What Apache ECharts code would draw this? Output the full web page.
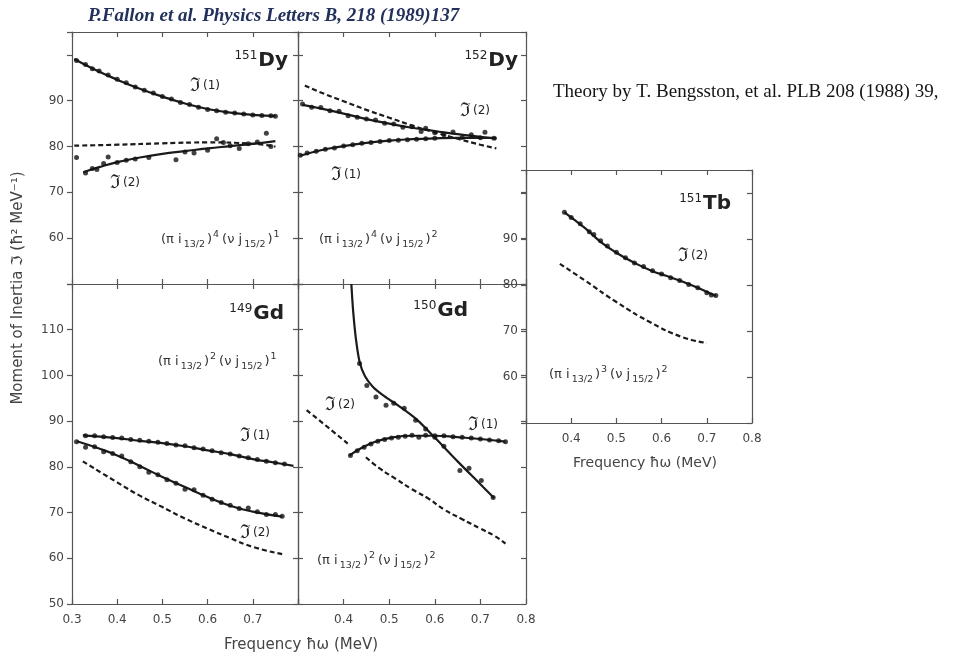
<!DOCTYPE html>
<html>
<head>
<meta charset="utf-8">
<script src="https://cdn.jsdelivr.net/npm/echarts@6/dist/echarts.min.js"></script>
<style>
  html, body { margin: 0; padding: 0; background: #fff; }
  #chart { width: 974px; height: 652px; }
</style>
</head>
<body>
<div id="chart"></div>
<script>
// ---------- tick labels ----------
const freqTickLabelsLeft  = ['0.3', '0.4', '0.5', '0.6', '0.7'];
const freqTickLabelsRight = ['0.4', '0.5', '0.6', '0.7', '0.8'];
const inertiaTickLabelsDy = ['60', '70', '80', '90'];
const inertiaTickLabelsGd = ['50', '60', '70', '80', '90', '100', '110'];
const inertiaTickLabelsTb = ['60', '70', '80', '90'];

// ---------- 151Dy ----------
const dy151J1Fit = [[0.305,99.1],[0.35,96.8],[0.40,94.6],[0.45,92.6],[0.50,90.9],[0.55,89.4],[0.60,88.2],[0.65,87.4],[0.70,86.9],[0.75,86.7]];
const dy151J1Pts = [[0.31,98.8],[0.33,97.9],[0.345,97.0],[0.36,96.5],[0.38,95.6],[0.40,94.7],[0.42,93.9],[0.44,93.0],[0.46,92.3],[0.48,91.7],[0.50,90.9],[0.52,90.4],[0.54,89.6],[0.56,89.2],[0.58,88.6],[0.60,88.1],[0.62,87.8],[0.64,87.5],[0.66,87.3],[0.68,87.1],[0.70,86.9],[0.72,86.8],[0.74,86.7],[0.75,86.6]];
const dy151J2Fit = [[0.325,74.4],[0.36,75.5],[0.40,76.6],[0.45,77.6],[0.50,78.4],[0.55,79.0],[0.60,79.6],[0.65,80.1],[0.70,80.6],[0.75,81.2]];
const dy151J2Pts = [[0.31,77.6],[0.33,74.2],[0.345,75.2],[0.355,75.0],[0.37,76.3],[0.38,77.7],[0.40,76.5],[0.42,77.0],[0.44,77.3],[0.47,77.6],[0.53,77.1],[0.55,78.8],[0.57,78.6],[0.60,79.2],[0.62,81.7],[0.635,80.9],[0.65,80.2],[0.67,79.6],[0.69,80.6],[0.71,81.0],[0.73,82.9],[0.74,80.0]];
const dy151Theory = [[0.305,80.2],[0.40,80.4],[0.50,80.7],[0.60,80.9],[0.70,80.6],[0.75,80.0]];

// ---------- 152Dy ----------
const dy152J2Fit = [[0.31,89.1],[0.35,88.3],[0.40,87.2],[0.45,86.0],[0.50,85.0],[0.55,84.1],[0.60,83.4],[0.65,82.7],[0.70,82.1],[0.735,81.7]];
const dy152J2Pts = [[0.31,89.3],[0.33,88.6],[0.35,88.5],[0.37,87.8],[0.39,87.7],[0.41,86.7],[0.43,86.4],[0.45,86.0],[0.47,85.8],[0.49,85.1],[0.51,84.9],[0.53,84.2],[0.55,84.3],[0.57,83.3],[0.58,84.0],[0.60,83.0],[0.62,82.6],[0.64,83.2],[0.66,82.0],[0.68,82.6],[0.70,81.9],[0.71,83.1],[0.73,81.8]];
const dy152J1Fit = [[0.305,78.0],[0.35,79.2],[0.40,80.1],[0.45,80.8],[0.50,81.3],[0.55,81.6],[0.60,81.8],[0.65,81.9],[0.70,81.9],[0.735,81.9]];
const dy152J1Pts = [[0.305,78.1],[0.32,78.6],[0.34,79.0],[0.36,79.4],[0.38,79.7],[0.40,80.1],[0.42,80.4],[0.44,80.7],[0.46,80.9],[0.48,81.1],[0.50,81.3],[0.52,81.4],[0.54,81.5],[0.56,81.6],[0.58,81.7],[0.60,81.8]];
const dy152Theory = [[0.315,93.3],[0.35,91.8],[0.40,89.9],[0.45,88.0],[0.50,86.3],[0.55,84.6],[0.60,83.1],[0.65,81.7],[0.70,80.4],[0.735,79.6]];

// ---------- 149Gd ----------
const gd149J1Fit = [[0.324,86.9],[0.40,86.3],[0.45,85.7],[0.50,85.2],[0.55,84.5],[0.60,83.6],[0.65,82.8],[0.70,81.7],[0.75,80.9],[0.79,80.2]];
const gd149J1Pts = [[0.33,86.8],[0.35,86.8],[0.37,86.6],[0.39,86.4],[0.41,86.3],[0.43,86.0],[0.45,85.8],[0.47,85.6],[0.49,85.4],[0.51,85.1],[0.53,84.8],[0.55,84.6],[0.57,84.2],[0.59,83.9],[0.61,83.5],[0.63,83.1],[0.65,82.8],[0.67,82.4],[0.69,82.0],[0.71,81.6],[0.73,81.2],[0.75,80.9],[0.77,80.6]];
const gd149J2Fit = [[0.311,85.6],[0.36,84.0],[0.40,82.5],[0.45,80.2],[0.50,77.8],[0.55,75.6],[0.60,73.4],[0.65,71.5],[0.70,70.2],[0.765,69.1]];
const gd149J2Pts = [[0.31,85.5],[0.33,84.3],[0.35,84.4],[0.37,83.3],[0.39,82.9],[0.41,82.4],[0.43,81.1],[0.45,80.0],[0.47,78.8],[0.49,78.3],[0.51,77.2],[0.53,76.4],[0.55,75.1],[0.57,75.0],[0.59,73.8],[0.61,72.9],[0.63,72.2],[0.65,71.6],[0.67,70.9],[0.69,71.0],[0.71,70.2],[0.73,69.6],[0.75,69.6],[0.765,69.2]];
const gd149Theory = [[0.324,81.2],[0.40,76.6],[0.45,73.7],[0.50,71.2],[0.55,68.7],[0.60,66.5],[0.65,64.4],[0.70,62.5],[0.765,60.9]];

// ---------- 150Gd ----------
const gd150J2Fit = [[0.417,120],[0.421,114],[0.427,108],[0.435,103],[0.447,99.8],[0.465,97.4],[0.49,95.4],[0.52,93.4],[0.56,90.4],[0.60,86.4],[0.65,81.2],[0.70,76.2],[0.73,73.2]];
const gd150J2Pts = [[0.435,102.6],[0.451,97.8],[0.471,95.3],[0.493,93.5],[0.51,93.9],[0.533,92.8],[0.558,90.2],[0.58,88.3],[0.60,86.5],[0.62,84.5],[0.655,79.2],[0.675,79.7],[0.702,77.0],[0.728,73.3]];
const gd150J1Fit = [[0.413,82.5],[0.44,84.2],[0.47,85.5],[0.50,86.3],[0.55,86.8],[0.60,86.8],[0.65,86.5],[0.70,86.1],[0.755,85.5]];
const gd150J1Pts = [[0.415,82.5],[0.43,83.5],[0.445,84.3],[0.46,85.0],[0.475,85.6],[0.49,86.0],[0.505,86.3],[0.52,86.5],[0.535,86.7],[0.55,86.9],[0.565,86.5],[0.58,86.9],[0.60,86.8],[0.62,86.8],[0.64,86.6],[0.66,86.5],[0.68,86.3],[0.70,86.1],[0.72,85.9],[0.74,85.7],[0.755,85.5]];
const gd150TheoryLow  = [[0.319,92.4],[0.36,89.1],[0.409,85.1]];
const gd150TheoryHigh = [[0.449,82.1],[0.48,79.6],[0.514,77.4],[0.55,75.1],[0.587,73.0],[0.62,70.7],[0.659,68.6],[0.70,66.5],[0.731,64.9],[0.755,63.2]];

// ---------- 151Tb ----------
const tb151J2Fit = [[0.385,95.8],[0.43,92.4],[0.465,89.4],[0.50,87.0],[0.54,84.8],[0.58,83.0],[0.61,82.0],[0.65,80.6],[0.685,79.2],[0.72,77.6]];
const tb151J2Pts = [[0.385,95.8],[0.40,94.7],[0.42,93.3],[0.44,91.6],[0.45,91.0],[0.465,89.6],[0.48,88.5],[0.50,87.1],[0.52,85.9],[0.54,84.8],[0.56,84.0],[0.58,83.1],[0.60,82.4],[0.62,81.6],[0.64,81.0],[0.66,80.1],[0.68,79.4],[0.70,78.3],[0.71,77.8],[0.72,77.7]];
const tb151Theory = [[0.375,84.6],[0.43,81.0],[0.50,76.3],[0.575,71.9],[0.645,68.7],[0.70,67.4]];

// ---------- layout ----------
const INK = '#1b1b1b';
const FRAME = '#555';
const SANS = 'DejaVu Sans';

const panels = [
  { left: 72,  top: 32,  width: 226, height: 252, yMin: 50, yMax: 105, xLabels: null, yLabels: inertiaTickLabelsDy, tickOut: true },
  { left: 298, top: 32,  width: 228, height: 252, yMin: 50, yMax: 105, xLabels: null, yLabels: null, tickOut: false },
  { left: 72,  top: 284, width: 226, height: 320, yMin: 50, yMax: 120, xLabels: freqTickLabelsLeft, yLabels: inertiaTickLabelsGd, tickOut: true },
  { left: 298, top: 284, width: 228, height: 320, yMin: 50, yMax: 120, xLabels: freqTickLabelsRight, yLabels: null, tickOut: false },
  { left: 526, top: 170, width: 226, height: 253, yMin: 50, yMax: 105, xLabels: freqTickLabelsRight, yLabels: inertiaTickLabelsTb, tickOut: true }
];

const lineStyleFrame = { color: FRAME, width: 1.2 };
const grids = [], xAxes = [], yAxes = [];

panels.forEach((p, i) => {
  grids.push({ left: p.left, top: p.top, width: p.width, height: p.height, show: false });
  const xFmt = v => { const s = v.toFixed(1); return p.xLabels && p.xLabels.includes(s) ? s : ''; };
  const yFmt = v => { const r = Math.round(v); return p.yLabels && Math.abs(v - r) < 1e-6 && p.yLabels.includes(String(r)) ? String(r) : ''; };
  const base = {
    gridIndex: i, type: 'value',
    axisLine: { show: true, onZero: false, lineStyle: lineStyleFrame },
    splitLine: { show: false }
  };
  xAxes.push(Object.assign({}, base, {
    position: 'bottom', min: 0.3, max: 0.8, interval: 0.1,
    axisTick: { show: true, inside: true, length: 5, lineStyle: lineStyleFrame },
    axisLabel: { show: !!p.xLabels, formatter: xFmt, margin: 10, fontFamily: SANS, fontSize: 12, color: '#444' }
  }));
  xAxes.push(Object.assign({}, base, {
    position: 'top', min: 0.3, max: 0.8, interval: 0.1,
    axisTick: { show: true, inside: true, length: 5, lineStyle: lineStyleFrame },
    axisLabel: { show: false }
  }));
  yAxes.push(Object.assign({}, base, {
    position: 'left', min: p.yMin, max: p.yMax, interval: 10,
    axisTick: { show: true, inside: !p.tickOut, length: 5, lineStyle: lineStyleFrame },
    axisLabel: { show: !!p.yLabels, formatter: yFmt, margin: 8, fontFamily: SANS, fontSize: 12, color: '#444' }
  }));
  yAxes.push(Object.assign({}, base, {
    position: 'right', min: p.yMin, max: p.yMax, interval: 10,
    axisTick: { show: true, inside: true, length: 5, lineStyle: lineStyleFrame },
    axisLabel: { show: false }
  }));
});

function curve(data, g, dashed, smoothness) {
  return {
    type: 'line', xAxisIndex: 2 * g, yAxisIndex: 2 * g, data: data,
    smooth: smoothness == null ? 0.5 : smoothness,
    showSymbol: false, symbol: 'none', silent: true, z: 3,
    lineStyle: { color: INK, width: 2.2, type: dashed ? [5, 3] : 'solid' }
  };
}
function dots(data, g) {
  return {
    type: 'scatter', xAxisIndex: 2 * g, yAxisIndex: 2 * g, data: data,
    symbol: 'circle', symbolSize: 5, itemStyle: { color: '#111' }, silent: true, z: 4
  };
}

const series = [
  curve(dy151J1Fit, 0), dots(dy151J1Pts, 0), curve(dy151J2Fit, 0), dots(dy151J2Pts, 0), curve(dy151Theory, 0, true),
  curve(dy152J2Fit, 1), dots(dy152J2Pts, 1), curve(dy152J1Fit, 1), dots(dy152J1Pts, 1), curve(dy152Theory, 1, true),
  curve(gd149J1Fit, 2), dots(gd149J1Pts, 2), curve(gd149J2Fit, 2), dots(gd149J2Pts, 2), curve(gd149Theory, 2, true),
  curve(gd150J2Fit, 3, false, 0.3), dots(gd150J2Pts, 3), curve(gd150J1Fit, 3), dots(gd150J1Pts, 3),
  curve(gd150TheoryLow, 3, true), curve(gd150TheoryHigh, 3, true),
  curve(tb151J2Fit, 4), dots(tb151J2Pts, 4), curve(tb151Theory, 4, true)
];

// ---------- annotations ----------
function nucleus(x, y, mass, sym) {
  return {
    type: 'text', x: x, y: y, z: 10,
    style: {
      text: '{m|' + mass + '}{e|' + sym + '}',
      align: 'right', verticalAlign: 'middle',
      rich: {
        m: { fontFamily: SANS, fontSize: 12, fill: '#222', verticalAlign: 'top', lineHeight: 22, padding: [0, 1, 0, 0] },
        e: { fontFamily: SANS, fontSize: 20, fontWeight: 'bold', fill: '#222', lineHeight: 22 }
      }
    }
  };
}
function inertiaTag(x, y, order) {
  return {
    type: 'text', x: x, y: y, z: 10,
    style: {
      text: '{j|ℑ}{n|(' + order + ')}',
      align: 'left', verticalAlign: 'middle',
      rich: {
        j: { fontFamily: 'DejaVu Serif', fontSize: 19, fill: '#222', lineHeight: 22, padding: [0, 2, 0, 0] },
        n: { fontFamily: SANS, fontSize: 12, fill: '#222', lineHeight: 22 }
      }
    }
  };
}
// nucleon configuration, e.g. (π i13/2)^4 (ν j15/2)^1
function config(x, y, nPi, nNu) {
  const base = { fontFamily: SANS, fill: '#333' };
  return {
    type: 'text', x: x, y: y, z: 10,
    style: {
      text: '{t|(π i}{b|13/2}{t|)}{p|' + nPi + '}{t|(ν j}{b|15/2}{t|)}{p|' + nNu + '}',
      align: 'left', verticalAlign: 'middle',
      rich: {
        t: Object.assign({ fontSize: 13, lineHeight: 20, verticalAlign: 'middle', padding: [0, 1] }, base),
        b: Object.assign({ fontSize: 9.5, lineHeight: 9, verticalAlign: 'bottom', padding: [0, 1] }, base),
        p: Object.assign({ fontSize: 9.5, lineHeight: 9, verticalAlign: 'top', padding: [0, 2, 0, 0] }, base)
      }
    }
  };
}

const graphic = [
  { type: 'text', x: 88, y: 16, z: 10,
    style: { text: 'P.Fallon et al. Physics Letters B, 218 (1989)137', align: 'left', verticalAlign: 'middle',
             fontFamily: 'Liberation Serif', fontStyle: 'italic', fontWeight: 'bold', fontSize: 19, fill: '#22305c' } },
  { type: 'text', x: 553, y: 92, z: 10,
    style: { text: 'Theory by T. Bengsston, et al. PLB 208 (1988) 39,', align: 'left', verticalAlign: 'middle',
             fontFamily: 'Liberation Serif', fontSize: 19, fill: '#151515' } },
  { type: 'text', x: 18, y: 288, rotation: Math.PI / 2, z: 10,
    style: { text: 'Moment of Inertia ℑ (ħ² MeV⁻¹)', align: 'center', verticalAlign: 'middle',
             fontFamily: SANS, fontSize: 15, fill: '#444' } },
  { type: 'text', x: 301, y: 645, z: 10,
    style: { text: 'Frequency ħω (MeV)', align: 'center', verticalAlign: 'middle',
             fontFamily: SANS, fontSize: 15, fill: '#444' } },
  { type: 'text', x: 645, y: 463, z: 10,
    style: { text: 'Frequency ħω (MeV)', align: 'center', verticalAlign: 'middle',
             fontFamily: SANS, fontSize: 14, fill: '#444' } },

  nucleus(288, 61, '151', 'Dy'),
  nucleus(518, 61, '152', 'Dy'),
  nucleus(284, 314, '149', 'Gd'),
  nucleus(468, 311, '150', 'Gd'),
  nucleus(731, 204, '151', 'Tb'),

  inertiaTag(190, 86, 1),
  inertiaTag(110, 183, 2),
  inertiaTag(460, 111, 2),
  inertiaTag(331, 175, 1),
  inertiaTag(240, 436, 1),
  inertiaTag(240, 533, 2),
  inertiaTag(325, 405, 2),
  inertiaTag(468, 425, 1),
  inertiaTag(678, 256, 2),

  config(160, 240, '4', '1'),
  config(318, 240, '4', '2'),
  config(157, 362, '2', '1'),
  config(316, 561, '2', '2'),
  config(548, 375, '3', '2')
];

const chart = echarts.init(document.getElementById('chart'), null, { renderer: 'canvas' });
chart.setOption({
  animation: false,
  backgroundColor: '#ffffff',
  grid: grids,
  xAxis: xAxes,
  yAxis: yAxes,
  series: series,
  graphic: graphic
});
</script>
</body>
</html>
